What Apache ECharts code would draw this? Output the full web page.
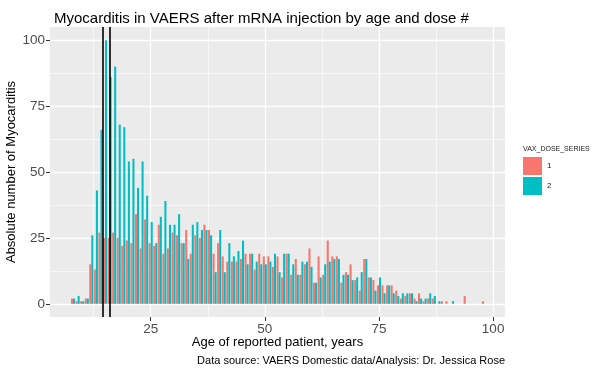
<!DOCTYPE html>
<html>
<head>
<meta charset="utf-8">
<script src="https://cdn.jsdelivr.net/npm/echarts@6/dist/echarts.min.js"></script>
<style>html,body{margin:0;padding:0;background:#fff}#c{width:602px;height:372px}</style>
</head>
<body>
<div id="c"></div>
<script>
const ages = [8,9,10,11,12,13,14,15,16,17,18,19,20,21,22,23,24,25,26,27,28,29,30,31,32,33,34,35,36,37,38,39,40,41,42,43,44,45,46,47,48,49,50,51,52,53,54,55,56,57,58,59,60,61,62,63,64,65,66,67,68,69,70,71,72,73,74,75,76,77,78,79,80,81,82,83,84,85,86,87,88,89,90,91,92,93,94,95,96,97,98];
const dose1 = [2,1,1,2,15,13,27,25,25,27,25,22,24,23,34,21,32,23,22,30,19,21,27,26,23,28,19,26,25,30,28,19,23,18,16,16,16,17,19,19,13,19,18,18,14,18,10,19,11,17,11,15,21,8,18,11,24,18,18,8,12,15,9,5,17,10,9,7,7,7,7,5,2,3,4,2,4,1,2,2,0,1,1,0,0,0,3,0,0,0,1];
const dose2 = [2,3,1,2,26,43,66,100,86,90,68,67,54,55,44,54,41,31,23,33,39,30,30,34,23,17,30,31,28,28,26,12,28,12,23,18,20,24,15,19,16,15,15,16,19,12,19,19,15,11,16,16,14,8,10,15,16,17,17,11,11,9,10,12,17,10,5,10,4,7,4,3,4,4,4,1,2,2,4,3,1,0,0,1,0,0,0,0,0,0,0];
const seriesNames = ['1', '2'];
const xMajorTicks = [25, 50, 75, 100];
const xMinorTicks = [12.5, 37.5, 62.5, 87.5];
const yMajorTicks = [0, 25, 50, 75, 100];
const yMinorTicks = [12.5, 37.5, 62.5, 87.5];
const refLines = [14.5, 16];

const colors = ['#F8766D', '#00BFC4'];
const barW = 0.45;

function renderer(offset) {
  return function (params, api) {
    const age = api.value(0), v = api.value(1);
    if (!v) return null;
    const p0 = api.coord([age + offset, 0]);
    const p1 = api.coord([age + offset + barW, v]);
    return {
      type: 'rect',
      shape: { x: p0[0], y: p1[1], width: p1[0] - p0[0], height: p0[1] - p1[1] },
      style: api.style()
    };
  };
}

const chart = echarts.init(document.getElementById('c'), null, { renderer: 'canvas' });
const font = 'Liberation Sans, Arial, sans-serif';
chart.setOption({
  animation: false,
  textStyle: { fontFamily: font },
  title: {
    text: 'Myocarditis in VAERS after mRNA injection by age and dose #',
    left: 49, top: 6,
    textStyle: { fontSize: 15, fontWeight: 'normal', color: '#000', fontFamily: font }
  },
  grid: {
    left: 50, right: 97, top: 27, bottom: 55,
    outerBoundsMode: 'none', containLabel: false,
    show: true, backgroundColor: '#EBEBEB', borderWidth: 0
  },
  legend: {
    data: seriesNames,
    orient: 'vertical', left: 523, top: 157, padding: 0,
    itemWidth: 19, itemHeight: 18, itemGap: 2, icon: 'rect',
    textStyle: { fontSize: 8, color: '#1a1a1a', fontFamily: font },
    selectedMode: false
  },
  graphic: [
    { type: 'text', left: 523, top: 146, style: { text: 'VAX_DOSE_SERIES', fontSize: 7, fill: '#1a1a1a', fontFamily: font } },
    { type: 'text', right: 97, top: 355, style: { text: 'Data source: VAERS Domestic data/Analysis: Dr. Jessica Rose', fontSize: 11, fill: '#000', fontFamily: font } }
  ],
  xAxis: [
    {
      type: 'value', min: 2.95, max: 102.6, position: 'bottom',
      name: 'Age of reported patient, years', nameLocation: 'middle', nameGap: 19, nameMoveOverlap: false,
      nameTextStyle: { fontSize: 13, color: '#000', fontFamily: font },
      axisLine: { show: false, onZero: false },
      axisTick: { show: true, customValues: xMajorTicks, length: 4, lineStyle: { color: '#333', width: 1 } },
      axisLabel: { customValues: xMajorTicks, fontSize: 13.5, color: '#4D4D4D', margin: 5, fontFamily: font },
      splitLine: { show: true, lineStyle: { color: '#fff', width: 1.3 } }
    },
    {
      type: 'value', min: 2.95, max: 102.6, position: 'top',
      axisLine: { show: false, onZero: false },
      axisTick: { show: false, customValues: xMinorTicks },
      axisLabel: { show: false, customValues: xMinorTicks },
      splitLine: { show: true, lineStyle: { color: '#fff', width: 0.6 } }
    }
  ],
  yAxis: [
    {
      type: 'value', min: -5, max: 105, position: 'left',
      name: 'Absolute number of Myocarditis', nameLocation: 'middle', nameGap: 32, nameRotate: 90, nameMoveOverlap: false,
      nameTextStyle: { fontSize: 13, color: '#000', fontFamily: font },
      axisLine: { show: false, onZero: false },
      axisTick: { show: true, customValues: yMajorTicks, length: 4, lineStyle: { color: '#333', width: 1 } },
      axisLabel: { customValues: yMajorTicks, fontSize: 13.5, color: '#4D4D4D', margin: 5, fontFamily: font },
      splitLine: { show: true, lineStyle: { color: '#fff', width: 1.3 } }
    },
    {
      type: 'value', min: -5, max: 105, position: 'right',
      axisLine: { show: false, onZero: false },
      axisTick: { show: false, customValues: yMinorTicks },
      axisLabel: { show: false, customValues: yMinorTicks },
      splitLine: { show: true, lineStyle: { color: '#fff', width: 0.6 } }
    }
  ],
  series: [
    {
      name: seriesNames[0], type: 'custom', renderItem: renderer(-barW),
      xAxisIndex: 0, yAxisIndex: 0, clip: true,
      itemStyle: { color: colors[0] },
      encode: { x: 0, y: 1 },
      data: ages.map((a, i) => [a, dose1[i]])
    },
    {
      name: seriesNames[1], type: 'custom', renderItem: renderer(0),
      xAxisIndex: 0, yAxisIndex: 0, clip: true,
      itemStyle: { color: colors[1] },
      encode: { x: 0, y: 1 },
      data: ages.map((a, i) => [a, dose2[i]])
    },
    {
      name: 'ref', type: 'line', data: [], xAxisIndex: 0, yAxisIndex: 0,
      markLine: {
        silent: true, symbol: 'none', animation: false,
        label: { show: false },
        lineStyle: { color: '#000', width: 1.6, type: 'solid' },
        data: refLines.map(v => ({ xAxis: v }))
      }
    }
  ]
});
</script>
</body>
</html>
